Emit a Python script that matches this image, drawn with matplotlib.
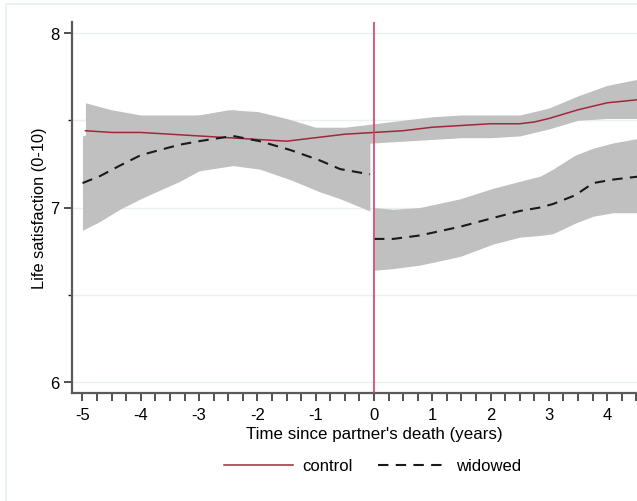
import numpy as np
import matplotlib
matplotlib.use('Agg')
import matplotlib.pyplot as plt
from matplotlib.patches import Rectangle
from matplotlib.ticker import MultipleLocator

plt.rcParams['font.family'] = ['Liberation Sans', 'DejaVu Sans']

# control: smoothed line and confidence band (continuous across 0)
ctrl_x = [-4.95, -4.5, -4.0, -3.5, -3.0, -2.5, -2.0, -1.5, -1.0, -0.5, 0.0, 0.5, 1.0, 1.5, 2.0, 2.5, 2.75, 3.0, 3.5, 4.0, 4.6]
ctrl_y = [7.44, 7.43, 7.43, 7.42, 7.41, 7.40, 7.39, 7.38, 7.40, 7.42, 7.43, 7.44, 7.46, 7.47, 7.48, 7.48, 7.49, 7.51, 7.56, 7.60, 7.62]
ctrl_hi = [7.60, 7.56, 7.53, 7.53, 7.53, 7.56, 7.55, 7.51, 7.46, 7.46, 7.48, 7.50, 7.52, 7.53, 7.53, 7.53, 7.55, 7.57, 7.64, 7.70, 7.74]
ctrl_lo = [7.28, 7.30, 7.32, 7.32, 7.32, 7.31, 7.30, 7.30, 7.33, 7.36, 7.37, 7.38, 7.39, 7.40, 7.40, 7.41, 7.43, 7.45, 7.50, 7.51, 7.51]

# widowed, before partner's death
wpre_x = [-5.0, -4.7, -4.36, -4.0, -3.67, -3.33, -3.0, -2.42, -1.96, -1.44, -0.93, -0.58, -0.07]
wpre_y = [7.14, 7.18, 7.24, 7.30, 7.33, 7.36, 7.38, 7.41, 7.38, 7.33, 7.27, 7.22, 7.19]
wpre_hi = [7.41, 7.44, 7.49, 7.52, 7.52, 7.52, 7.53, 7.56, 7.54, 7.49, 7.44, 7.42, 7.40]
wpre_lo = [6.87, 6.92, 6.99, 7.05, 7.10, 7.15, 7.21, 7.24, 7.22, 7.16, 7.09, 7.05, 6.98]

# widowed, after partner's death
wpost_x = [0.0, 0.33, 0.79, 1.48, 2.04, 2.5, 2.85, 3.07, 3.45, 3.76, 4.1, 4.6]
wpost_y = [6.82, 6.82, 6.84, 6.89, 6.94, 6.98, 7.00, 7.02, 7.07, 7.14, 7.16, 7.18]
wpost_hi = [7.00, 6.99, 7.00, 7.05, 7.11, 7.15, 7.18, 7.22, 7.30, 7.34, 7.37, 7.40]
wpost_lo = [6.64, 6.65, 6.67, 6.72, 6.79, 6.83, 6.84, 6.85, 6.91, 6.95, 6.97, 6.97]

xticks = [-5, -4, -3, -2, -1, 0, 1, 2, 3, 4]
yticks = [6, 7, 8]

band_col = '#c0c0c0'
ctrl_col = '#9e2a3a'
grid_col = '#e8f0f2'

fig = plt.figure(figsize=(6.37, 5.02), dpi=100)
fig.patches.append(Rectangle((6 / 637, -0.1), 1.2, 1 - 5 / 502 + 0.1, transform=fig.transFigure,
                             fill=False, edgecolor=grid_col, linewidth=1.2))
# plot region runs past the right edge of the picture (cropped original)
ax = fig.add_axes([72 / 637, 1 - 394 / 502, (676 - 72) / 637, (394 - 23) / 502])

ax.fill_between(wpre_x, wpre_lo, wpre_hi, color=band_col, lw=0, zorder=1)
ax.fill_between(ctrl_x, ctrl_lo, ctrl_hi, color=band_col, lw=0, zorder=1)
ax.fill_between(wpost_x, wpost_lo, wpost_hi, color=band_col, lw=0, zorder=1)

ax.plot(ctrl_x, ctrl_y, color=ctrl_col, lw=1.1, zorder=3, label='control')
ax.plot(wpre_x, wpre_y, color='#1a1a1a', lw=1.5, ls=(0, (5, 3.5)), zorder=3, label='widowed')
ax.plot(wpost_x, wpost_y, color='#1a1a1a', lw=1.5, ls=(0, (5, 3.5)), zorder=3)

ax.axvline(0, color='#dc3c64', lw=1.2, zorder=4)

ax.set_xlim(-5.18, 5.18)
ax.set_ylim(5.937, 8.063)
ax.set_yticks(yticks)
ax.yaxis.set_minor_locator(MultipleLocator(0.5))
ax.set_xticks(xticks)
ax.set_xticklabels([str(t) for t in xticks])
ax.xaxis.set_minor_locator(MultipleLocator(0.25))
for yv in [6, 6.5, 7, 7.5, 8]:
    ax.axhline(yv, color=grid_col, lw=1.0, zorder=0)

for s in ['top', 'right']:
    ax.spines[s].set_visible(False)
for s in ['left', 'bottom']:
    ax.spines[s].set_color('#5a5a5a')
    ax.spines[s].set_linewidth(1.6)

ax.tick_params(axis='x', which='major', length=6, width=1.1, color='#222222', labelsize=12, pad=4)
ax.tick_params(axis='y', which='major', length=6, width=1.1, color='#222222', labelsize=12, pad=3)
ax.tick_params(axis='x', which='minor', length=6, width=1.1, color='#222222')
ax.tick_params(axis='y', which='minor', length=3, width=1.0, color='#222222')

ax.set_xlabel("Time since partner's death (years)", fontsize=12.2, labelpad=3)
ax.set_ylabel('Life satisfaction (0-10)', fontsize=11.8, labelpad=2)

fig.legend(loc='center', bbox_to_anchor=(373 / 637, 1 - 467 / 502), ncol=2, frameon=False,
           fontsize=12, handlelength=4.1, handletextpad=0.6, columnspacing=1.5)

fig.savefig('out.png', dpi=100)
